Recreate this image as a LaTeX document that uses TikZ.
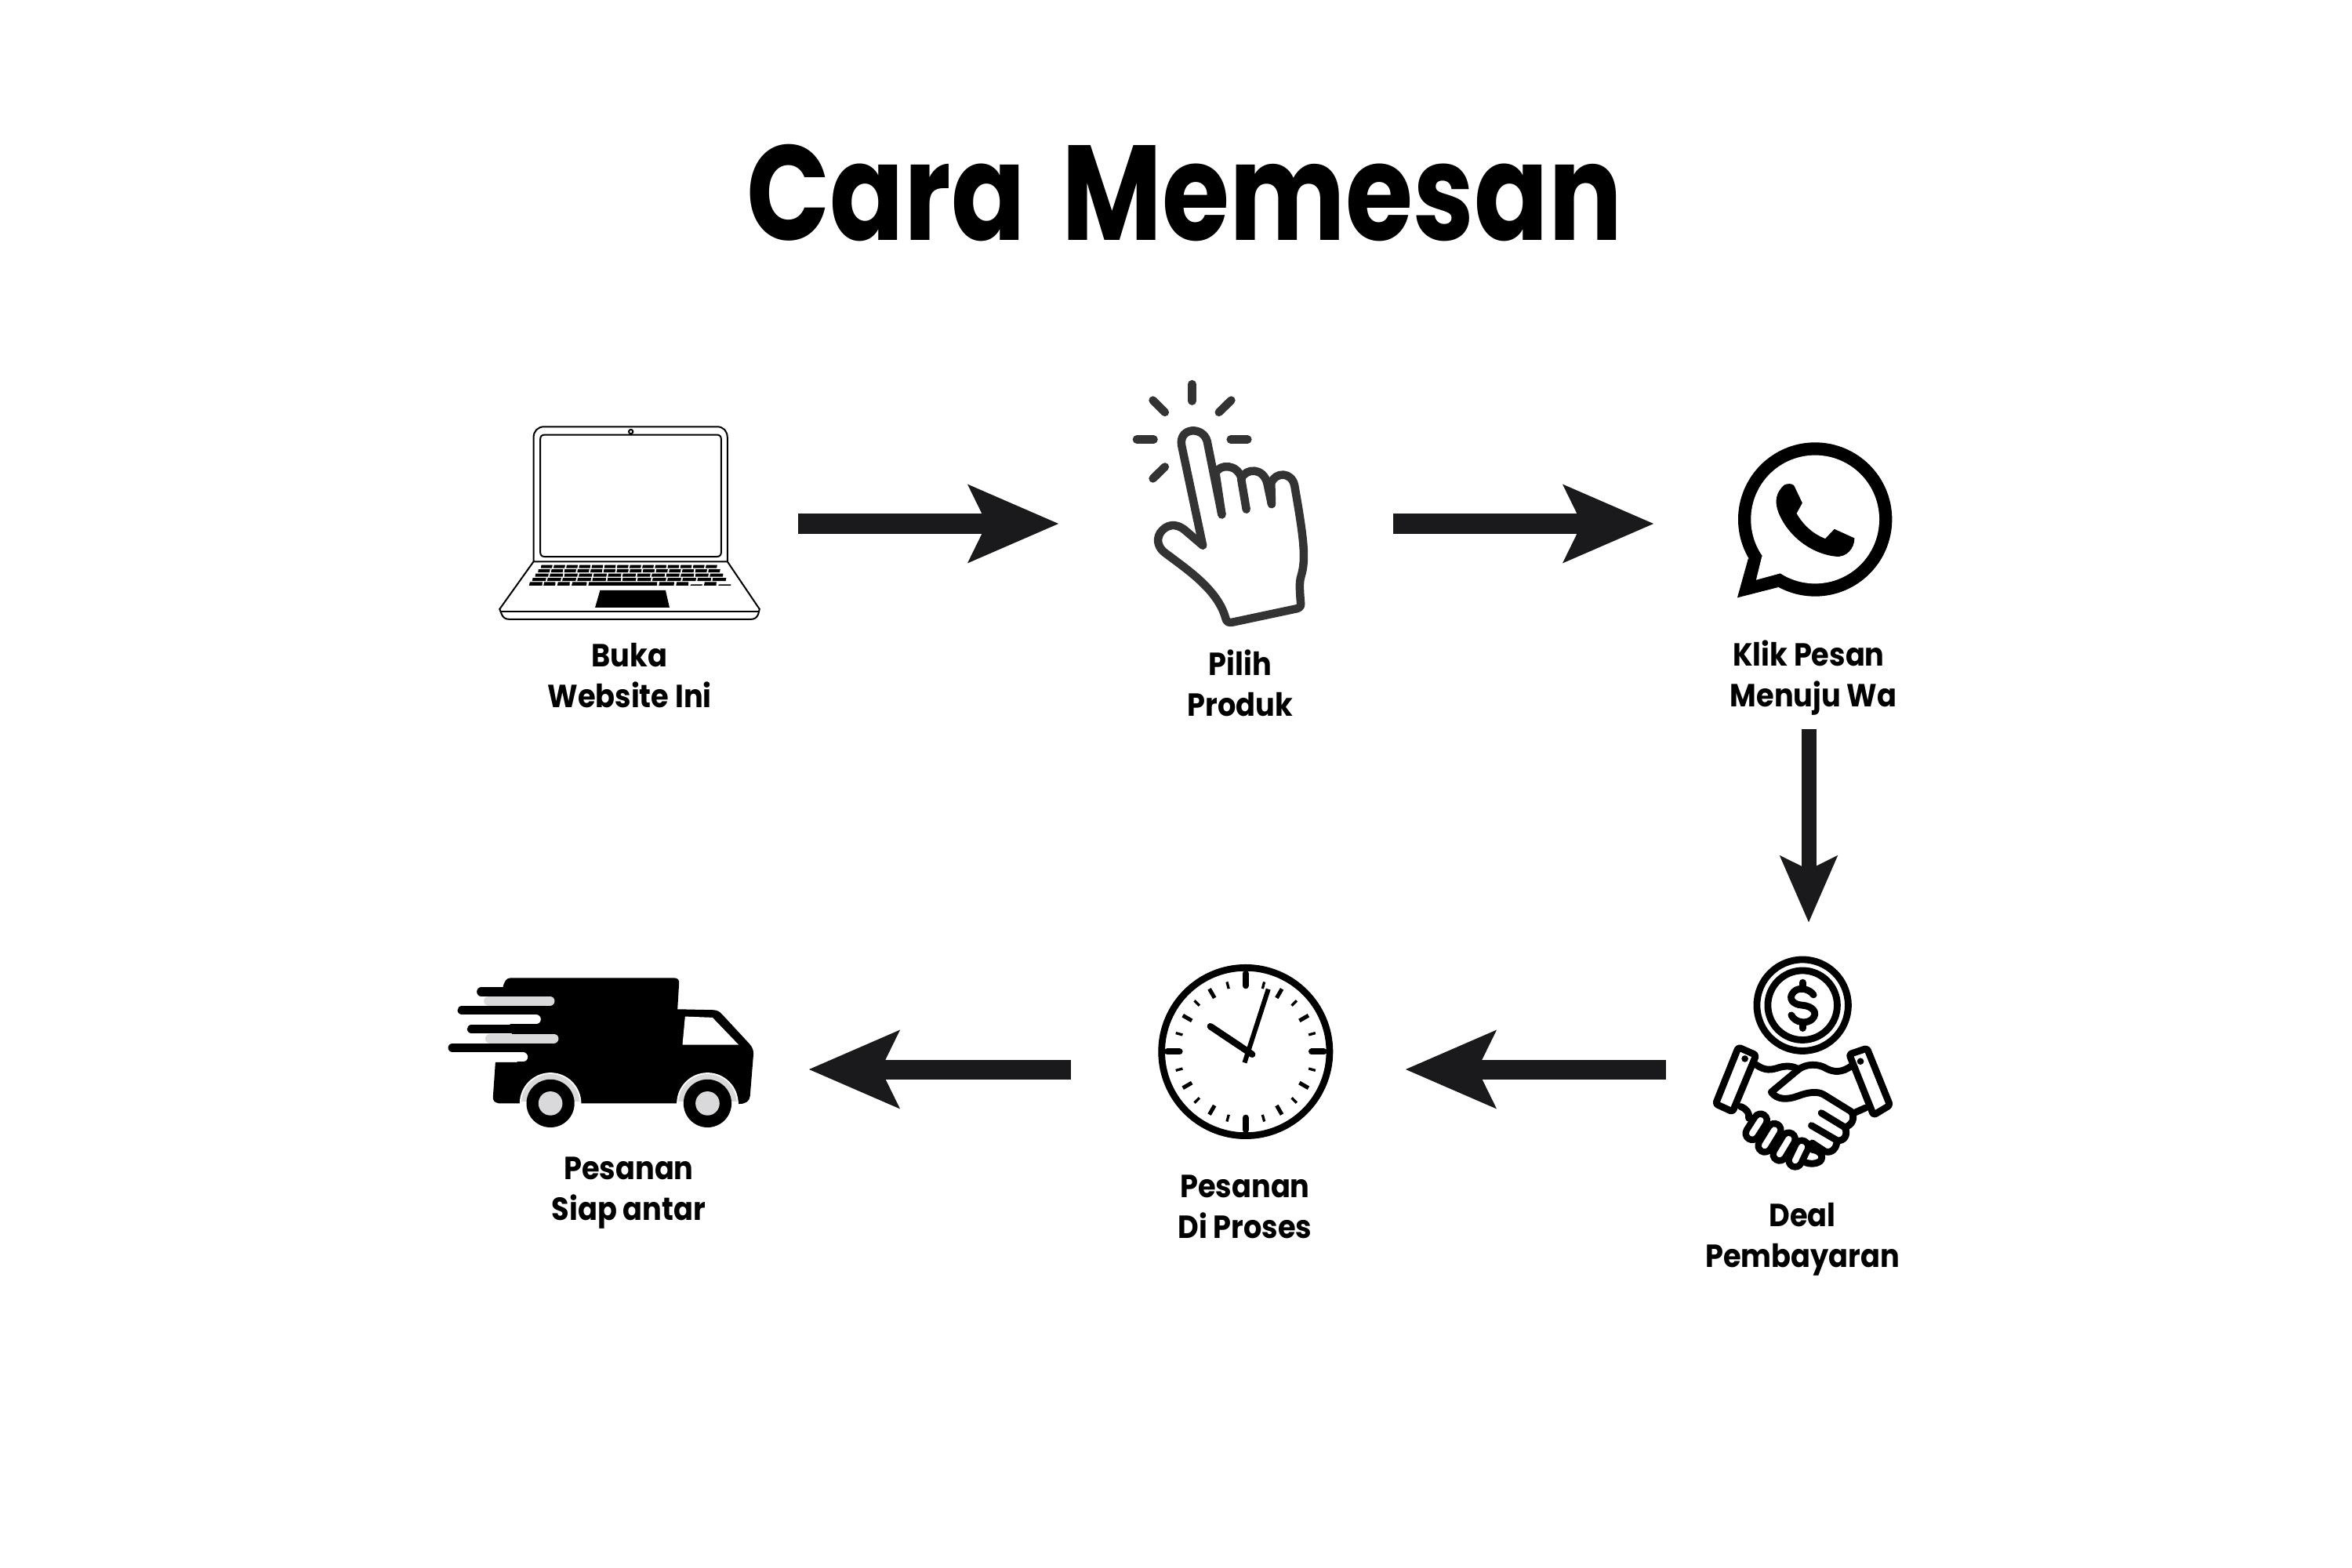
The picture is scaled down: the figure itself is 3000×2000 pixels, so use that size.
\documentclass[tikz,border=0pt]{standalone}
\usepackage{fontspec}
\usetikzlibrary{arrows.meta}
\newfontfamily\capfont[FakeStretch=0.81]{Poppins}
\newfontfamily\labelfont[FakeStretch=0.90]{Poppins}
\definecolor{inkdark}{HTML}{1A1A1C}
\definecolor{handink}{HTML}{333333}
\definecolor{archgray}{HTML}{D9D8DA}
\tikzset{
 capstyle/.style={font=\capfont\bfseries\fontsize{49}{49}\selectfont,inner sep=0pt},
 labelstyle/.style={font=\labelfont\bfseries\fontsize{11.6}{14.8}\selectfont,align=center,inner sep=0pt},
 slot/.style={inner sep=0pt,outer sep=0pt},
 flow/.style={draw=inkdark,line width=0.25cm,-{Stealth[length=1.14cm,width=0.96cm,inset=0.22cm]}},
 flowdown/.style={draw=inkdark,line width=0.19cm,-{Stealth[length=0.84cm,width=0.71cm,inset=0.166cm]}},
 lapline/.style={line width=0.02cm,draw=black},
 handline/.style={draw=handink,line width=0.105cm,line cap=round,line join=round},
 dealline/.style={draw=black,line width=0.088cm,line cap=round,line join=round},
}
\begin{document}
\begin{tikzpicture}[x=0.01cm,y=-0.01cm]
 \useasboundingbox (0,0) rectangle (3000,2000);
 \node[capstyle,anchor=base] (cap) at (1511,307) {Cara\hspace{0.17cm} Memesan};
 % laptop
 \node[slot,minimum width=4.28cm,minimum height=1cm] (laptop) at (804,668) {};
 \begin{scope}[shift={(600,500)},x=0.003333cm,y=-0.003333cm]
 \draw[lapline] (242,650) -- (242,175) .. controls (242,150) and (258,133) .. (283,133) -- (945,133) .. controls (970,133) and (985,150) .. (985,175) -- (985,650);
 \draw[lapline] (268,180) .. controls (268,170) and (274,164) .. (284,164) -- (945,164) .. controls (955,164) and (961,170) .. (961,180) -- (961,615) .. controls (961,625) and (955,631) .. (945,631) -- (284,631) .. controls (274,631) and (268,625) .. (268,615) -- cycle;
 \draw[lapline] (615,152) circle[radius=8];
 \draw[lapline] (242,650) -- (985,650) -- (1108,832) -- (1103,852) .. controls (1098,865) and (1088,871) .. (1075,871) -- (150,871) .. controls (135,871) and (125,865) .. (120,852) -- (112,832) -- cycle;
 \draw[lapline] (115,840) -- (1105,840);
 \fill (497,760) -- (748,760) -- (763,826) -- (478,826) -- cycle;
 % keys
 \foreach \r/\n in {0/14,1/14,2/13,3/13}{
  \pgfmathsetmacro{\ytop}{663+\r*16.5}
  \pgfmathsetmacro{\lft}{270-\r*11}
  \pgfmathsetmacro{\rgt}{950+\r*11.5}
  \pgfmathsetmacro{\keyw}{(\rgt-\lft)/\n}
  \foreach \k in {1,...,\n}{
   \pgfmathsetmacro{\ax}{\lft+(\k-1)*\keyw}
   \pgfmathsetmacro{\bx}{\ax+\keyw-6}
   \fill (\ax+2,\ytop) -- (\bx+2,\ytop) -- (\bx,\ytop+12) -- (\ax,\ytop+12) -- cycle;
  }
 }
 \foreach \ax/\bx/\h in {225/275/14,280/325/14,333/380/14,388/445/14,452/715/14,722/780/14,788/835/14,843/888/5,895/942/14,950/998/5}{
  \fill (\ax+3,742-\h) -- (\bx+1,742-\h) -- (\bx,742) -- (\ax,742) -- cycle;
 }
 \end{scope}
 % hand
 \node[slot,minimum width=4.26cm,minimum height=1cm] (hand) at (1564,668) {};
 \begin{scope}[shift={(1400,460)},x=0.003333cm,y=-0.003333cm]
 \foreach \ax/\ay/\bx/\by in {362/90/362/155,212/152/258/198,512/152/465/198,150/302/215/302,510/302/575/302,258/407/212/452}{
  \draw[handline] (\ax,\ay) -- (\bx,\by);
 }
 \draw[handline] (403,708) -- (335,650) .. controls (300,620) and (262,628) .. (240,660) .. controls (222,690) and (235,720) .. (260,738) .. controls (350,805) and (460,880) .. (490,985) .. controls (493,1003) and (505,1006) .. (520,1002) -- (765,950) .. controls (780,945) and (780,935) .. (778,925) .. controls (775,880) and (772,850) .. (780,825) .. controls (800,760) and (790,680) .. (755,480) .. controls (745,425) and (680,425) .. (665,470) -- (667,550);
 \draw[handline] (667,550) -- (650,470) .. controls (635,410) and (570,410) .. (550,452) -- (570,570);
 \draw[handline] (552,452) .. controls (535,395) and (470,395) .. (452,430) -- (476,590);
 \draw[handline] (476,590) -- (420,310) .. controls (405,250) and (310,255) .. (322,325) -- (403,708);
 \end{scope}
 % whatsapp
 \node[slot,minimum width=3.94cm,minimum height=5.24cm] (wa) at (2307,668) {};
 \begin{scope}[shift={(2200,550)},x=0.003333cm,y=-0.003333cm]
 \fill (346,338) circle[radius=295];
 \fill (90,487) -- (48,638) -- (205,598) -- cycle;
 \fill[white] (346,338) circle[radius=246];
 \fill[white] (142,480) -- (120,570) -- (212,545) -- (300,400) -- cycle;
 \fill (228,206) .. controls (240,200) and (258,200) .. (265,208) -- (297,275) -- (275,315) .. controls (300,360) and (340,395) .. (385,412) -- (420,375) -- (497,410) .. controls (497,450) and (465,485) .. (425,480) .. controls (330,470) and (240,400) .. (205,310) .. controls (190,270) and (195,235) .. (228,206) -- cycle;
 \end{scope}
 % deal
 \node[slot,minimum width=3.64cm,minimum height=3.74cm] (deal) at (2307,1364) {};
 \begin{scope}[shift={(2180,1200)},x=0.003333cm,y=-0.003333cm]
 \draw[dealline] (358,247) circle[radius=175];
 \draw[dealline] (358,247) circle[radius=133];
 \draw[dealline] (400,207) .. controls (385,185) and (345,175) .. (325,195) .. controls (300,220) and (320,245) .. (358,247) .. controls (395,250) and (420,275) .. (395,300) .. controls (375,320) and (330,315) .. (315,285);
 \draw[dealline] (358,160) -- (358,180) (358,315) -- (358,335);
 \draw[dealline,rounded corners=0.03cm] (112,408) -- (180,438) -- (90,655) -- (25,625) -- cycle;
 \draw[dealline,rounded corners=0.03cm] (537,435) -- (605,412) -- (693,630) -- (630,668) -- cycle;
 \fill (137,452) circle[radius=13];
 \fill (580,462) circle[radius=13];
 \draw[dealline] (180,475) .. controls (215,500) and (240,495) .. (270,485) .. controls (295,478) and (320,480) .. (340,490);
 \draw[dealline] (340,495) .. controls (370,470) and (420,470) .. (450,490) .. controls (480,505) and (510,505) .. (545,480);
 \draw[dealline] (340,495) -- (238,580) .. controls (260,610) and (300,610) .. (340,595) .. controls (380,580) and (415,575) .. (440,590) -- (545,655) .. controls (560,680) and (550,705) .. (520,715) -- (430,660);
 \draw[dealline] (520,715) .. controls (535,745) and (515,770) .. (490,765) -- (392,708);
 \draw[dealline] (490,765) .. controls (490,795) and (470,815) .. (445,808) -- (395,775);
 \draw[dealline] (555,660) -- (600,640);
 \draw[dealline] (120,635) .. controls (145,645) and (155,660) .. (152,680);
 \foreach \ax/\ay/\bx/\by in {165/738/197/688,213/785/250/725,270/818/305/760,330/842/355/790}{
  \draw[line width=0.25cm,line cap=round] (\ax,\ay) -- (\bx,\by);
  \draw[white,line width=0.08cm,line cap=round] (\ax,\ay) -- (\bx,\by);
 }
 \draw[dealline] (395,800) .. controls (430,805) and (440,830) .. (425,845) .. controls (405,858) and (385,855) .. (370,850);
 \end{scope}
 % clock
 \node[slot,minimum width=4.26cm,minimum height=1cm] (clock) at (1579,1364) {};
 \begin{scope}[shift={(1460,1220)},x=0.003333cm,y=-0.003333cm]
 \draw[line width=0.087cm] (387,365) circle[radius=322];
 \foreach \a in {0,90,180,270}{
  \draw[line width=0.08cm,line cap=round] (387,365)+(\a:253) -- +(\a:300);
 }
 \foreach \a in {30,60,120,150,210,240,300,330}{
  \draw[line width=0.05cm] (387,365)+(\a:238) -- +(\a:278);
 }
 \foreach \a in {15,45,75,105,135,165,195,225,255,285,315,345}{
  \draw[line width=0.033cm] (387,365)+(\a:250) -- +(\a:277);
 }
 \draw[line width=0.085cm,line cap=round] (252,268) -- (412,375);
 \draw[line width=0.06cm] (474,125) -- (383,407);
 \end{scope}
 % truck
 \node[slot,minimum width=5.62cm,minimum height=1cm] (truck) at (750,1364) {};
 \begin{scope}[shift={(560,1230)},x=0.003333cm,y=-0.003333cm]
 \fill (245,88) .. controls (250,65) and (258,52) .. (275,52) -- (900,52) .. controls (915,52) and (921,60) .. (920,72) -- (914,172) -- (1050,175) .. controls (1065,175) and (1075,180) .. (1088,195) -- (1190,305) .. controls (1202,320) and (1206,330) .. (1205,345) -- (1192,505) .. controls (1190,525) and (1175,535) .. (1150,535) -- (1030,533) -- (230,533) .. controls (212,530) and (205,522) .. (207,505) -- (216,375) -- (300,375) -- cycle;
 \fill[white] (943,200) -- (1048,204) -- (1148,308) -- (933,308) -- cycle;
 % gaps between the speed lines
 \draw[archgray,line width=0.12cm,line cap=round] (190,140) -- (425,140);
 \draw[white,line width=0.12cm,line cap=round] (100,211) -- (372,211);
 \draw[archgray,line width=0.12cm,line cap=round] (195,284) -- (440,284);
 \draw[white,line width=0.12cm,line cap=round] (100,356) -- (322,356);
 \foreach \lx/\ly in {162/105,88/176,125/248,52/320}{
  \draw[line width=0.115cm,line cap=round] (\lx,\ly) -- (500,\ly);
 }
 % wheels
 \foreach \wx in {427,1029}{
  \begin{scope}
  \clip (\wx-130,400) rectangle (\wx+130,532);
  \fill[white] (\wx,533) circle[radius=118];
  \fill[archgray] (\wx,533) circle[radius=112];
  \end{scope}
  \fill[white] (\wx-118,525) rectangle (\wx+118,540);
  \fill (\wx,533) circle[radius=92];
  \fill[archgray] (\wx,533) circle[radius=46];
 }
 \end{scope}
 % labels
 \node[labelstyle] (buka) at (803,862) {Buka\\Website Ini};
 \node[labelstyle] (pilih) at (1582,871) {Pilih\\Produk};
 \node[labelstyle] (klik) at (2313,865) {Klik Pesan\kern0.12cm\\Menuju Wa};
 \node[labelstyle] (bayar) at (2299,1581) {Deal\\Pembayaran};
 \node[labelstyle] (proses) at (1588,1539) {Pesanan\\Di Proses};
 \node[labelstyle] (antar) at (802,1522) {Pesanan\\Siap antar};
 % arrows
 \draw[flow] (laptop.east) -- (hand.west);
 \draw[flow] (hand.east) -- (wa.west);
 \draw[flowdown] (wa.south) -- (deal.north);
 \draw[flow] (deal.west) -- (clock.east);
 \draw[flow] (clock.west) -- (truck.east);
\end{tikzpicture}
\end{document}
